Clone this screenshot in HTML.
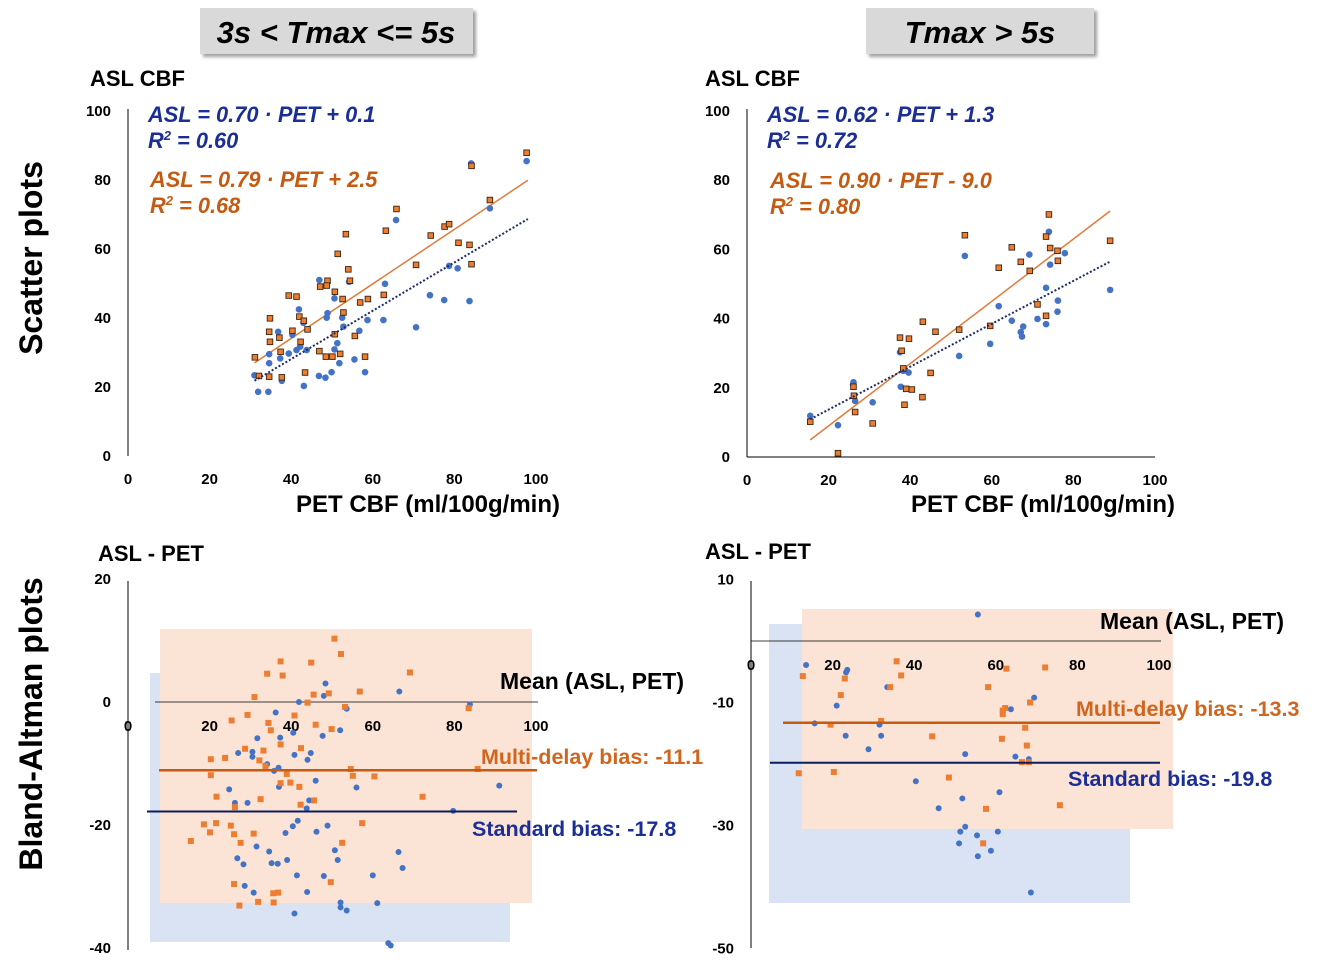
<!DOCTYPE html>
<html><head><meta charset="utf-8"><style>
html,body{margin:0;padding:0;background:#fff;}
svg{display:block;font-family:"Liberation Sans",sans-serif;}
</style></head><body>
<svg id="fig" width="1318" height="964" viewBox="0 0 1318 964">
<defs><filter id="sh" x="-10%" y="-10%" width="130%" height="140%"><feDropShadow dx="3" dy="3" stdDeviation="1.5" flood-color="#888" flood-opacity="0.8"/></filter></defs>
<g><rect x="200" y="8" width="273" height="46" fill="#d9d9d9" filter="url(#sh)"/><text x="336" y="43" text-anchor="middle" font-size="31" font-weight="bold" font-style="italic">3s &lt; Tmax &lt;= 5s</text></g>
<g><rect x="866" y="8" width="228" height="46" fill="#d9d9d9" filter="url(#sh)"/><text x="980" y="43" text-anchor="middle" font-size="31" font-weight="bold" font-style="italic">Tmax &gt; 5s</text></g>
<text transform="translate(42,258) rotate(-90)" text-anchor="middle" font-size="32" font-weight="bold">Scatter plots</text>
<text transform="translate(42,724) rotate(-90)" text-anchor="middle" font-size="32" font-weight="bold">Bland-Altman plots</text>
<g id="root"></g>
</svg>
<script>
// ---- Data: scatter 3s<Tmax<=5s ----
const s1BlueX=[84.1,97.7,88.7,65.7,46.9,54.2,63.0,50.6,41.9,48.9,48.7,43.0,52.5,58.7,62.6,36.8,40.3,52.8,56.7,70.6,74.0,77.5,78.7,80.8,83.7,51.3,50.6,34.6,39.4,41.3,43.8,37.3,34.6,51.8,55.5,49.9,46.8,48.4,58.1,43.1,37.7,31.0,31.9,34.4,42.2];
const s1BlueY=[84.8,85.5,71.8,68.4,51.0,50.5,49.9,45.7,42.5,41.4,40.1,38.6,40.1,39.4,39.4,36.0,35.1,37.5,36.3,37.3,46.6,45.2,55.1,54.4,44.9,32.7,30.9,29.5,29.7,30.7,30.7,28.3,26.9,26.9,28.0,24.3,23.2,22.7,24.3,20.3,21.8,23.4,18.6,18.6,31.7];
const s1OrX=[97.7,84.2,88.7,65.8,63.2,53.4,51.4,74.2,77.6,78.7,81.0,83.7,84.2,70.6,54.0,54.4,48.9,47.1,48.7,39.4,41.3,50.7,52.6,62.7,58.8,56.9,34.8,42.0,43.1,52.8,34.6,40.3,44.0,37.1,34.8,42.3,50.7,55.6,37.4,46.9,48.5,50.1,52.0,58.1,31.1,43.4,32.1,34.6,37.7];
const s1OrY=[87.9,84.1,74.2,71.6,65.3,64.3,58.6,63.9,66.5,67.2,61.8,61.2,55.6,55.4,54.1,50.8,50.8,49.1,49.4,46.5,46.2,47.6,45.5,46.7,45.5,44.5,39.9,40.4,39.2,41.6,36.0,36.3,36.7,34.3,33.1,33.1,35.3,34.8,30.2,30.4,28.8,28.8,29.6,28.8,28.6,24.2,23.2,23.0,22.8];
const s1Fit={blue:[0.70,0.1],orange:[0.79,2.5],xmin:31,xmax:98};
// ---- Data: scatter Tmax>5s ----
const s2BlueX=[74.0,69.2,53.4,77.9,74.3,73.3,76.2,76.1,73.3,71.2,89.0,61.7,64.9,67.7,67.1,67.4,59.6,52.0,37.5,38.3,39.6,37.7,26.1,26.0,26.5,30.8,15.5,22.3];
const s2BlueY=[65.1,58.5,58.1,58.9,55.6,48.9,45.2,42.0,38.4,39.9,48.3,43.6,39.4,37.7,36.1,34.8,32.7,29.2,30.3,24.9,24.4,20.3,21.6,21.0,16.2,15.8,11.9,9.2];
const s2OrX=[74.0,53.4,64.9,73.3,74.3,76.1,76.2,67.1,61.7,69.3,89.0,71.2,73.3,59.6,52.0,43.1,46.2,37.5,39.7,37.9,38.3,45.0,39.0,40.4,43.0,38.6,26.1,26.2,26.5,30.8,15.5,22.3];
const s2OrY=[70.1,64.1,60.6,63.7,60.4,59.6,56.7,56.4,54.7,53.8,62.5,44.1,40.8,37.9,36.8,39.1,36.2,34.5,34.2,30.7,25.6,24.3,19.7,19.5,17.3,15.1,20.3,17.7,13.0,9.7,10.2,1.1];
const s2Fit={blue:[0.62,1.3],orange:[0.90,-9.0],xmin:15.5,xmax:89};
// ---- Data: Bland-Altman 3s<Tmax<=5s ----
const b1BlueX=[48.4,48.0,66.5,41.9,53.6,83.8,36.2,40.5,52.0,31.7,37.3,47.7,27.0,30.5,30.5,40.8,44.8,44.0,34.1,35.8,36.9,24.8,37.0,46.0,56.0,91.0,26.2,29.3,44.4,43.8,79.7,41.6,40.4,38.6,48.9,46.2,31.5,34.6,26.8,28.3,35.2,36.7,39.0,50.7,51.4,66.3,67.3,41.4,48.0,60.0,28.6,30.8,43.9,52.1,52.1,53.6,61.1,40.8,63.8,64.4];
const b1BlueY=[3.0,1.0,1.7,0.0,-1.1,-0.4,-1.7,-5.0,-4.6,-5.9,-5.8,-5.5,-8.3,-8.1,-8.9,-8.6,-8.3,-9.4,-10.1,-11.2,-10.7,-14.2,-13.8,-12.8,-13.9,-13.6,-16.4,-16.4,-16.0,-17.3,-17.7,-19.3,-20.2,-21.3,-20.1,-21.1,-23.5,-24.3,-25.4,-26.4,-26.2,-26.3,-25.7,-24.1,-25.7,-24.4,-27.0,-28.2,-28.3,-28.2,-29.9,-31.0,-30.9,-32.6,-33.4,-33.9,-32.7,-34.4,-39.2,-39.6];
const b1OrX=[50.6,52.2,37.4,44.9,34.1,37.9,69.1,31.0,49.2,45.5,56.8,44.0,53.2,83.5,29.3,40.8,25.4,34.4,46.0,35.0,49.9,37.4,28.7,33.2,42.4,20.3,23.8,32.2,33.7,20.3,38.9,54.6,85.7,55.1,60.4,37.4,39.8,42.0,21.7,32.5,72.2,26.2,42.3,45.6,18.6,21.6,25.2,57.4,20.1,26.0,30.8,15.4,27.6,52.5,49.7,26.0,35.6,36.8,31.9,35.7,27.3];
const b1OrY=[10.3,7.8,6.6,6.4,4.6,4.3,4.8,0.8,1.4,1.2,1.7,-0.1,-0.8,-1.0,-2.1,-2.2,-3.0,-3.4,-3.7,-4.6,-4.4,-6.9,-7.6,-7.9,-7.5,-9.3,-9.1,-9.5,-10.4,-11.9,-11.7,-10.9,-10.9,-12.0,-12.1,-13.2,-13.1,-13.8,-15.4,-15.8,-15.4,-17.1,-16.7,-16.0,-19.9,-19.7,-20.1,-19.7,-21.2,-21.5,-21.4,-22.6,-22.9,-22.9,-29.3,-29.6,-31.1,-31.0,-32.5,-32.6,-33.1];
const b1Bias={orange:-11.1,blue:-17.8};
// ---- Data: Bland-Altman Tmax>5s ----
const b2BlueX=[55.6,13.5,23.6,23.3,21.0,33.4,15.6,31.5,23.2,31.9,28.8,69.4,63.7,52.5,64.8,68.1,40.4,60.9,51.8,46.0,52.5,51.3,60.5,55.4,51.0,58.8,55.6,68.6];
const b2BlueY=[4.3,-3.9,-4.7,-5.1,-10.5,-7.5,-13.4,-13.6,-15.4,-15.4,-17.6,-9.2,-11.1,-18.4,-18.8,-19.2,-22.8,-24.6,-25.6,-27.2,-30.2,-31.0,-31.0,-31.6,-32.9,-34.1,-35.0,-40.9];
const b2OrX=[12.7,35.7,36.8,23.0,34.1,22.0,19.5,31.9,44.4,11.7,20.3,48.5,62.6,72.1,58.1,62.3,61.7,61.7,68.4,67.2,61.5,67.6,66.4,68.1,57.6,75.7,56.9];
const b2OrY=[-5.7,-3.3,-5.6,-6.1,-7.5,-8.8,-13.6,-13.0,-15.5,-21.5,-21.3,-22.2,-4.5,-4.3,-7.5,-10.9,-11.3,-11.9,-10.0,-14.1,-15.9,-17.0,-19.7,-19.7,-27.3,-26.7,-32.9];
const b2Bias={orange:-13.3,blue:-19.8};
const scatterXTicks=["0","20","40","60","80","100"];
const scatterYTicks=["0","20","40","60","80","100"];
const ba1YTicks=["-40","-20","0","20"];
const ba2YTicks=["-50","-30","-10","10"];

const NS="http://www.w3.org/2000/svg";
const root=document.getElementById('root');
function mk(tag,attrs,parent,txt){const e=document.createElementNS(NS,tag);for(const k in attrs)e.setAttribute(k,attrs[k]);if(txt!==undefined)e.textContent=txt;(parent||root).appendChild(e);return e;}
function lin(d0,d1,p0,p1){return v=>p0+(v-d0)*(p1-p0)/(d1-d0);}

function scatter(cfg){
  const g=mk('g',{});
  
  
  const sx=lin(0,100,cfg.x0,cfg.x1), sy=lin(0,100,cfg.y0,cfg.y1);
  const ax=mk('line',{x1:cfg.x0,y1:cfg.y1-2,x2:cfg.x0,y2:cfg.y0,stroke:'#000','stroke-width':1},g);
  
  
  if(cfg.xline){const xl=mk('line',{x1:cfg.x0,y1:cfg.y0,x2:cfg.x1,y2:cfg.y0,stroke:'#000','stroke-width':1},g);
    
    }
  scatterXTicks.forEach(t=>{const e=mk('text',{x:sx(+t),y:cfg.y0+28,'text-anchor':'middle','font-size':15,'font-weight':'bold'},g,t);
    
    });
  scatterYTicks.forEach(t=>{const e=mk('text',{x:cfg.x0-17,y:sy(+t)+5,'text-anchor':'end','font-size':15,'font-weight':'bold'},g,t);
    
    });
  const f=cfg.fit;
  const lo=mk('line',{x1:sx(f.xmin),y1:sy(f.orange[0]*f.xmin+f.orange[1]),x2:sx(f.xmax),y2:sy(f.orange[0]*f.xmax+f.orange[1]),stroke:'#E07B39','stroke-width':1.5},g);
  
  
  cfg.bx.forEach((x,i)=>{const c=mk('circle',{cx:sx(x),cy:sy(cfg.by[i]),r:3.3,fill:'#4472C4'},g);
    
    });
  cfg.ox.forEach((x,i)=>{const r=mk('rect',{x:sx(x)-2.8,y:sy(cfg.oy[i])-2.8,width:5.6,height:5.6,fill:'#ED7D31',stroke:'#3a2410','stroke-width':0.9},g);
    
    });
  const lb=mk('line',{x1:sx(f.xmin),y1:sy(f.blue[0]*f.xmin+f.blue[1]),x2:sx(f.xmax),y2:sy(f.blue[0]*f.xmax+f.blue[1]),stroke:'#1c2a6b','stroke-width':2,'stroke-dasharray':'2 2'},g);
  
  
}
scatter({name:'scatter-left',x0:128,x1:536,y0:456,y1:111,xline:false,fit:s1Fit,bx:s1BlueX,by:s1BlueY,ox:s1OrX,oy:s1OrY});
scatter({name:'scatter-right',x0:747,x1:1155,y0:457,y1:111,xline:true,fit:s2Fit,bx:s2BlueX,by:s2BlueY,ox:s2OrX,oy:s2OrY});

function ba(cfg){
  const g=mk('g',{});
  
  
  const sx=lin(0,100,cfg.x0,cfg.x1), sy=lin(0,-10,cfg.yz,cfg.yz+61.5);
  const r1=mk('rect',cfg.blueRect,g); r1.setAttribute('fill','#dae3f3');
  
  
  const r2=mk('rect',cfg.orRect,g); r2.setAttribute('fill','#fbe4d5');
  
  
  const ya=mk('line',{x1:cfg.x0,y1:cfg.ytop,x2:cfg.x0,y2:cfg.ybot,stroke:'#000','stroke-width':1},g);
  
  
  const za=mk('line',{x1:cfg.zx0,y1:cfg.yz,x2:cfg.x1+2,y2:cfg.yz,stroke:'#000','stroke-width':0.8},g);
  
  
  scatterXTicks.forEach(t=>{const e=mk('text',{x:sx(+t),y:cfg.yz+29,'text-anchor':'middle','font-size':15,'font-weight':'bold'},g,t);
    
    });
  cfg.yt.forEach(t=>{const e=mk('text',{x:cfg.x0-17,y:sy(+t)+5,'text-anchor':'end','font-size':15,'font-weight':'bold'},g,t);
    
    });
  cfg.bx.forEach((x,i)=>{const c=mk('circle',{cx:sx(x),cy:sy(cfg.by[i]),r:3,fill:'#4472C4'},g);
    
    });
  cfg.ox.forEach((x,i)=>{const r=mk('rect',{x:sx(x)-3,y:sy(cfg.oy[i])-3,width:6,height:6,fill:'#ED7D31'},g);
    
    });
  const lo=mk('line',{x1:cfg.oL[0],y1:sy(cfg.bias.orange),x2:cfg.oL[1],y2:sy(cfg.bias.orange),stroke:'#C55A11','stroke-width':2.5},g);
  
  
  const lb=mk('line',{x1:cfg.bL[0],y1:sy(cfg.bias.blue),x2:cfg.bL[1],y2:sy(cfg.bias.blue),stroke:'#0b1d5c','stroke-width':2},g);
  
  
}
ba({name:'bland-altman-left',x0:128,x1:536,yz:702,ytop:581,ybot:950,zx0:155,yt:ba1YTicks,
  blueRect:{x:150,y:673,width:360,height:269},orRect:{x:160,y:629,width:372,height:274},
  oL:[159,537],bL:[147,517],bias:b1Bias,bx:b1BlueX,by:b1BlueY,ox:b1OrX,oy:b1OrY});
ba({name:'bland-altman-right',x0:751,x1:1159,yz:641,ytop:581,ybot:948,zx0:751,yt:ba2YTicks,
  blueRect:{x:769,y:624,width:361,height:279},orRect:{x:802,y:609,width:371,height:220},
  oL:[783,1160],bL:[770,1160],bias:b2Bias,bx:b2BlueX,by:b2BlueY,ox:b2OrX,oy:b2OrY});
</script>
<script>
const svg=document.getElementById('fig');
function T(name,x,y,txt,attrs){const e=document.createElementNS("http://www.w3.org/2000/svg",'text');e.setAttribute('x',x);e.setAttribute('y',y);for(const k in attrs)e.setAttribute(k,attrs[k]);e.innerHTML=txt;
  
  
  svg.appendChild(e);}
const B={'font-weight':'bold','font-size':22};
const BI_b={'font-weight':'bold','font-style':'italic','font-size':21.8,fill:'#1a2e96'};
const BI_o={'font-weight':'bold','font-style':'italic','font-size':21.8,fill:'#C55A11'};
T('y-axis-title',90,86,'ASL CBF',B);
T('y-axis-title',705,86,'ASL CBF',B);
T('standard-equation',148,122,'ASL = 0.70 · PET + 0.1',BI_b);
T('standard-r2',148,148,'R<tspan dy="-8" font-size="13">2</tspan><tspan dy="8"> = 0.60</tspan>',BI_b);
T('multi-delay-equation',150,187,'ASL = 0.79 · PET + 2.5',BI_o);
T('multi-delay-r2',150,213,'R<tspan dy="-8" font-size="13">2</tspan><tspan dy="8"> = 0.68</tspan>',BI_o);
T('standard-equation',767,122,'ASL = 0.62 · PET + 1.3',BI_b);
T('standard-r2',767,148,'R<tspan dy="-8" font-size="13">2</tspan><tspan dy="8"> = 0.72</tspan>',BI_b);
T('multi-delay-equation',770,188,'ASL = 0.90 · PET - 9.0',BI_o);
T('multi-delay-r2',770,214,'R<tspan dy="-8" font-size="13">2</tspan><tspan dy="8"> = 0.80</tspan>',BI_o);
T('x-axis-title',428,512,'PET CBF (ml/100g/min)',{'font-weight':'bold','font-size':24,'text-anchor':'middle'});
T('x-axis-title',1043,512,'PET CBF (ml/100g/min)',{'font-weight':'bold','font-size':24,'text-anchor':'middle'});
T('y-axis-title',98,561,'ASL - PET',B);
T('y-axis-title',705,559,'ASL - PET',B);
T('x-axis-title',500,689,'Mean (ASL, PET)',{'font-weight':'bold','font-size':23});
T('x-axis-title',1100,629,'Mean (ASL, PET)',{'font-weight':'bold','font-size':23});
T('multi-delay-bias-label',481,764,'Multi-delay bias: -11.1',{'font-size':21.5,'font-weight':'bold',fill:'#D0651E'});
T('standard-bias-label',472,836,'Standard bias: -17.8',{'font-size':21.5,'font-weight':'bold',fill:'#1a2e96'});
T('multi-delay-bias-label',1076,716,'Multi-delay bias: -13.3',{'font-size':21.5,'font-weight':'bold',fill:'#D0651E'});
T('standard-bias-label',1068,786,'Standard bias: -19.8',{'font-size':21.5,'font-weight':'bold',fill:'#1a2e96'});
</script>
</body></html>
